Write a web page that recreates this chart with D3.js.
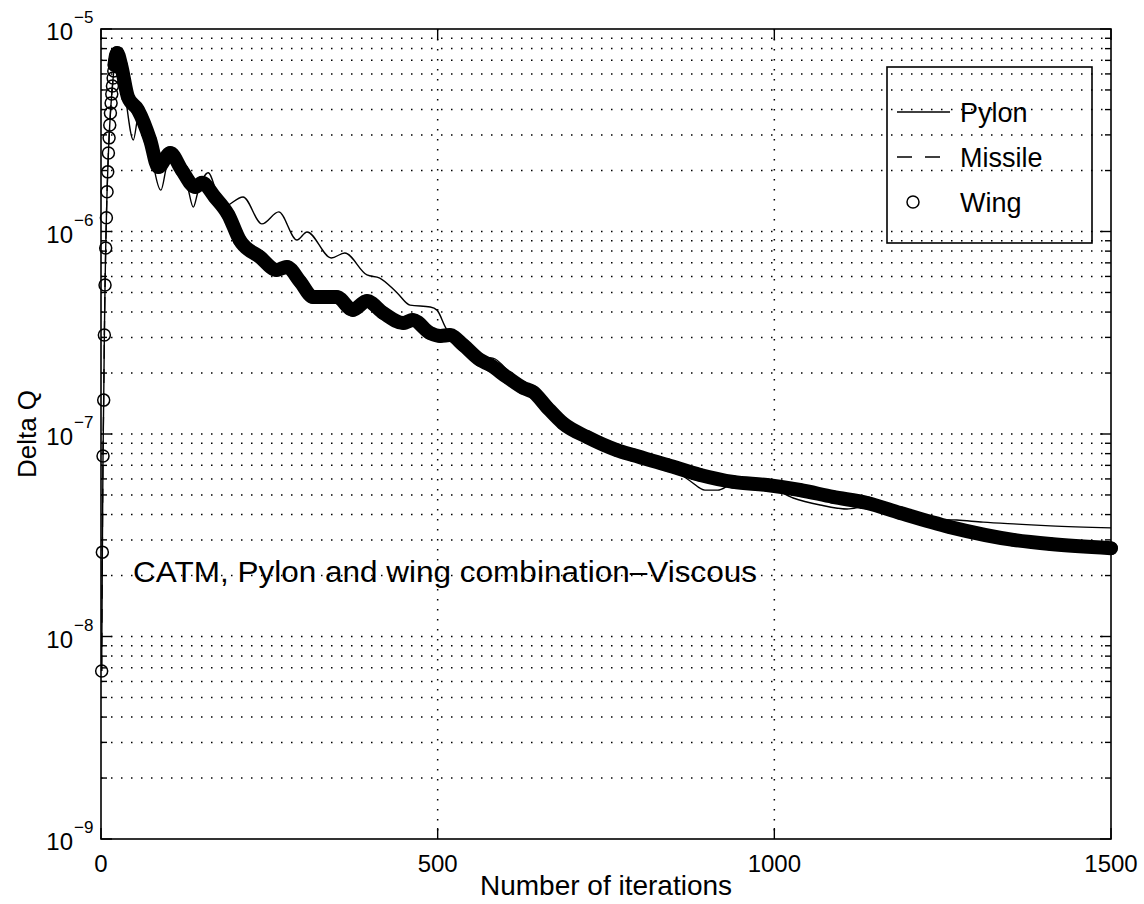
<!DOCTYPE html>
<html><head><meta charset="utf-8">
<script src="https://cdn.jsdelivr.net/npm/d3@7"></script>
<style>
body{margin:0;background:#fff}
svg{display:block}
text{font-family:"Liberation Sans",Arial,Helvetica,sans-serif;fill:#000}
</style>
</head><body>
<svg id="chart" width="1144" height="904"></svg>
<script>
// ---------------- data ----------------
const xTickValues = [0, 500, 1000, 1500];
const xTickLabels = ["0", "500", "1000", "1500"];
const yDecadeValues = [1e-9, 1e-8, 1e-7, 1e-6, 1e-5];
const yDecadeExponents = ["−9", "−8", "−7", "−6", "−5"];
const seriesNames = ["Pylon", "Missile", "Wing"];

const wingIterations = [1,2,3,4,5,6,7,8,9,10,11,12,13,14,15,16,17,18,19,20,21,22,23,24,30,40,55,73,85,103,120,140,150,169,189,206,236,261,276,296,315,350,374,395,419,449,463,489,504,518,538,563,578,603,627,642,662,686,722,766,790,841,890,939,989,1038,1087,1138,1187,1261,1355,1410,1500];
const wingValues = [6.76e-9,2.61e-8,7.79e-8,1.47e-7,3.08e-7,5.44e-7,8.29e-7,1.17e-6,1.57e-6,1.97e-6,2.44e-6,2.90e-6,3.36e-6,3.85e-6,4.31e-6,4.78e-6,5.23e-6,5.73e-6,6.21e-6,6.64e-6,7.03e-6,7.36e-6,7.53e-6,7.61e-6,6.6e-6,4.62e-6,3.98e-6,2.83e-6,2.08e-6,2.44e-6,2.01e-6,1.66e-6,1.74e-6,1.48e-6,1.21e-6,9.07e-7,7.48e-7,6.46e-7,6.68e-7,5.64e-7,4.75e-7,4.75e-7,4.10e-7,4.54e-7,3.96e-7,3.53e-7,3.66e-7,3.15e-7,3.05e-7,3.08e-7,2.75e-7,2.32e-7,2.19e-7,1.91e-7,1.69e-7,1.61e-7,1.36e-7,1.13e-7,9.66e-8,8.33e-8,7.87e-8,7.03e-8,6.28e-8,5.80e-8,5.60e-8,5.29e-8,4.89e-8,4.56e-8,4.07e-8,3.47e-8,3.00e-8,2.86e-8,2.73e-8];

// Missile curve coincides with the Wing curve in the picture
const missileIterations = wingIterations;
const missileValues = wingValues;

const pylonIterations = [1,2,3,4,5,6,7,8,9,10,11,12,13,14,15,16,17,18,19,20,21,22,23,24,30,36,48,56,67,73,80,89,98,105,120,129,137,144,159,181,211,239,264,291,306,342,362,395,414,440,459,489,499,514,533,558,582,608,627,642,662,686,722,766,790,841,875,897,916,939,989,1028,1068,1108,1138,1187,1231,1271,1310,1361,1410,1500];
const pylonValues = [6.76e-9,2.61e-8,7.79e-8,1.47e-7,3.08e-7,5.44e-7,8.29e-7,1.17e-6,1.57e-6,1.97e-6,2.44e-6,2.90e-6,3.36e-6,3.85e-6,4.31e-6,4.78e-6,5.23e-6,5.73e-6,6.21e-6,6.64e-6,7.03e-6,7.36e-6,7.53e-6,7.61e-6,6.6e-6,4.72e-6,2.83e-6,3.76e-6,3.36e-6,2.83e-6,1.97e-6,1.60e-6,2.13e-6,2.31e-6,2.01e-6,1.64e-6,1.32e-6,1.57e-6,1.95e-6,1.32e-6,1.48e-6,1.09e-6,1.25e-6,9.08e-7,9.95e-7,7.40e-7,7.83e-7,6.10e-7,5.89e-7,4.97e-7,4.33e-7,4.24e-7,4.09e-7,3.27e-7,3.01e-7,2.40e-7,2.37e-7,1.98e-7,1.69e-7,1.61e-7,1.36e-7,1.13e-7,9.66e-8,8.33e-8,7.87e-8,7.03e-8,5.86e-8,5.28e-8,5.28e-8,5.66e-8,5.53e-8,4.83e-8,4.46e-8,4.26e-8,4.40e-8,4.07e-8,3.80e-8,3.76e-8,3.67e-8,3.59e-8,3.52e-8,3.44e-8];

const annotationText = "CATM, Pylon and wing combination–Viscous";
const xAxisTitle = "Number of iterations";
const yAxisTitle = "Delta Q";

// ---------------- drawing ----------------
const svg = d3.select("#chart");
const L = 101, R = 1111, T = 29, B = 839;
const x = d3.scaleLinear().domain([0, 1500]).range([L, R]);
const y = d3.scaleLog().domain([1e-9, 1e-5]).range([B, T]);

const toPts = (its, vals) => its.map((it, i) => [it, vals[i]]);
const wing = toPts(wingIterations, wingValues);
const missile = toPts(missileIterations, missileValues);
const pylon = toPts(pylonIterations, pylonValues);

// minor / major log grid values
const yGrid = [];
for (let e = -9; e < -5; e++) for (let m = 1; m <= 9; m++) yGrid.push(m * Math.pow(10, e));
const gridStyle = s => s.attr("stroke", "#000").attr("stroke-width", 1.5).attr("stroke-dasharray", "1.5,8.5").attr("fill", "none");

const grid = svg.append("g");
grid.selectAll("line.hg").data(yGrid.filter(v => v > 1.0001e-9)).join("line")
  .attr("x1", L).attr("x2", R).attr("y1", d => y(d)).attr("y2", d => y(d)).call(gridStyle);
grid.selectAll("line.vg").data(xTickValues.filter(v => v > 0 && v < 1500)).join("line")
  .attr("x1", d => x(d)).attr("x2", d => x(d)).attr("y1", T).attr("y2", B).call(gridStyle);

// axis box
svg.append("rect").attr("x", L).attr("y", T).attr("width", R - L).attr("height", B - T)
  .attr("fill", "none").attr("stroke", "#000").attr("stroke-width", 1.6);

// ticks (inward, both sides)
const ticks = svg.append("g").attr("stroke", "#000").attr("stroke-width", 1.4);
yGrid.concat([1e-5]).forEach(v => {
  const major = Math.abs(Math.log10(v) - Math.round(Math.log10(v))) < 1e-9;
  const len = major ? 11 : 6;
  ticks.append("line").attr("x1", L).attr("x2", L + len).attr("y1", y(v)).attr("y2", y(v));
  ticks.append("line").attr("x1", R).attr("x2", R - len).attr("y1", y(v)).attr("y2", y(v));
});
xTickValues.forEach(v => {
  ticks.append("line").attr("x1", x(v)).attr("x2", x(v)).attr("y1", B).attr("y2", B - 11);
  ticks.append("line").attr("x1", x(v)).attr("x2", x(v)).attr("y1", T).attr("y2", T + 11);
});

// y tick labels 10^e
const yl = svg.append("g");
yDecadeValues.forEach((v, i) => {
  yl.append("text").attr("x", 73).attr("y", y(v) + 11).attr("text-anchor", "end")
    .attr("font-size", 24).text("10");
  yl.append("text").attr("x", 74).attr("y", y(v) - 6).attr("text-anchor", "start")
    .attr("font-size", 17).text(yDecadeExponents[i]);
});
// x tick labels
svg.append("g").selectAll("text").data(xTickValues).join("text")
  .attr("x", d => x(d)).attr("y", 872).attr("text-anchor", "middle").attr("font-size", 24)
  .text((d, i) => xTickLabels[i]);

// axis titles
svg.append("text").attr("x", 606).attr("y", 895).attr("text-anchor", "middle")
  .attr("font-size", 28).text(xAxisTitle);
svg.append("text").attr("transform", `translate(36,${(T + B) / 2}) rotate(-90)`)
  .attr("text-anchor", "middle").attr("font-size", 26).text(yAxisTitle);

// data lines
const line = d3.line().x(d => x(d[0])).y(d => y(d[1])).curve(d3.curveMonotoneX);
const plot = svg.append("g");
// wing: dense circle markers form a thick band
const wingBand = wing.filter(d => d[0] >= 20);
plot.append("path").attr("d", line(wingBand)).attr("fill", "none").attr("stroke", "#000")
  .attr("stroke-width", 14).attr("stroke-linecap", "round").attr("stroke-linejoin", "round");
plot.selectAll("circle.w").data(wing).join("circle")
  .attr("cx", d => x(d[0])).attr("cy", d => y(d[1])).attr("r", 6)
  .attr("fill", "none").attr("stroke", "#000").attr("stroke-width", 1.5);
plot.append("path").attr("d", line(missile)).attr("fill", "none").attr("stroke", "#000")
  .attr("stroke-width", 1.3).attr("stroke-dasharray", "14,10");
plot.append("path").attr("d", line(pylon)).attr("fill", "none").attr("stroke", "#000")
  .attr("stroke-width", 1.4);

// annotation
svg.append("text").attr("x", 133).attr("y", 582).attr("font-size", 29)
  .attr("textLength", 624).attr("lengthAdjust", "spacingAndGlyphs").text(annotationText);

// legend
const lg = svg.append("g");
lg.append("rect").attr("x", 887).attr("y", 67).attr("width", 205).attr("height", 176)
  .attr("fill", "none").attr("stroke", "#000").attr("stroke-width", 1.6);
const rowsY = [112, 157, 202];
lg.append("line").attr("x1", 897).attr("x2", 950).attr("y1", rowsY[0]).attr("y2", rowsY[0])
  .attr("stroke", "#000").attr("stroke-width", 1.4);
lg.append("line").attr("x1", 897).attr("x2", 942).attr("y1", rowsY[1]).attr("y2", rowsY[1])
  .attr("stroke", "#000").attr("stroke-width", 1.4).attr("stroke-dasharray", "15,13");
lg.append("circle").attr("cx", 913).attr("cy", rowsY[2]).attr("r", 6)
  .attr("fill", "none").attr("stroke", "#000").attr("stroke-width", 1.5);
seriesNames.forEach((n, i) => {
  lg.append("text").attr("x", 960).attr("y", rowsY[i] + 10).attr("font-size", 27).text(n);
});
</script>
</body></html>
